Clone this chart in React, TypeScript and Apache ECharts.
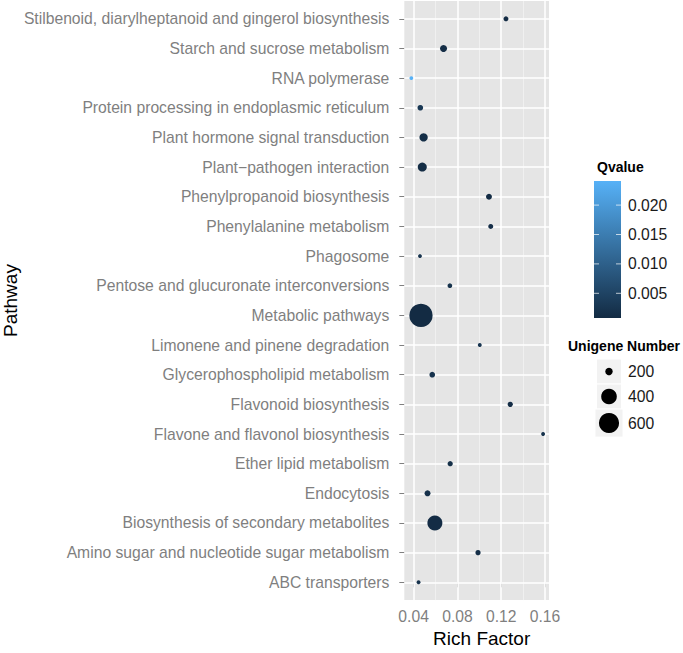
import { useEffect, useRef } from "react";
import * as echarts from "echarts";

// Categories listed bottom-to-top (ggplot order)
const pathways = [
  "ABC transporters",
  "Amino sugar and nucleotide sugar metabolism",
  "Biosynthesis of secondary metabolites",
  "Endocytosis",
  "Ether lipid metabolism",
  "Flavone and flavonol biosynthesis",
  "Flavonoid biosynthesis",
  "Glycerophospholipid metabolism",
  "Limonene and pinene degradation",
  "Metabolic pathways",
  "Pentose and glucuronate interconversions",
  "Phagosome",
  "Phenylalanine metabolism",
  "Phenylpropanoid biosynthesis",
  "Plant\u2212pathogen interaction",
  "Plant hormone signal transduction",
  "Protein processing in endoplasmic reticulum",
  "RNA polymerase",
  "Starch and sucrose metabolism",
  "Stilbenoid, diarylheptanoid and gingerol biosynthesis",
];
const richFactor = [
  0.0445, 0.0988, 0.0594, 0.0527, 0.0734, 0.1582, 0.1282, 0.057, 0.1004, 0.0467,
  0.0731, 0.0458, 0.1104, 0.1088, 0.0479, 0.0491, 0.0461, 0.0379, 0.0673, 0.1243,
];
const unigeneNumber = [
  180, 183, 377, 187, 183, 180, 183, 185, 180, 780,
  181, 180, 182, 187, 222, 211, 185, 180, 196, 182,
];
const qValue = [
  0.002, 0.0015, 0.001, 0.0018, 0.0016, 0.002, 0.0012, 0.0022, 0.0025, 0.0008,
  0.002, 0.0024, 0.0014, 0.0009, 0.0011, 0.0013, 0.003, 0.0241, 0.0012, 0.001,
];
const xMajorTicks = [0.04, 0.08, 0.12, 0.16];
const xMinorTicks = [0.06, 0.1, 0.14];
const qTicks = [0.005, 0.01, 0.015, 0.02];
const sizeBreaks = [200, 400, 600];

const FONT = "Liberation Sans, Arial, Helvetica, sans-serif";

export default function App() {
  const ref = useRef<HTMLDivElement>(null);
  useEffect(() => {
    if (!ref.current) return;
    const chart = echarts.init(ref.current, undefined, { renderer: "svg" });

    const gMin = Math.min(...unigeneNumber);
    const gMax = Math.max(...unigeneNumber);
    const sizePx = (v: number) =>
      3.88 * (1 + 5 * Math.sqrt(Math.max(0, (v - gMin) / (gMax - gMin))));
    const qMin = Math.min(...qValue);
    const qMax = Math.max(...qValue);
    const indices = pathways.map((_, i) => i);

    const data = pathways.map((p, i) => [richFactor[i], i, unigeneNumber[i], qValue[i], p]);

    // colour bar legend
    const barX = 594, barY = 181, barW = 27, barH = 137;
    const qToY = (v: number) => barY + barH - ((v - qMin) / (qMax - qMin)) * barH;
    const graphics: any[] = [];
    graphics.push({
      type: "text",
      left: 597,
      top: 160,
      style: { text: "Qvalue", font: `bold 14px ${FONT}`, fill: "#000" },
    });
    graphics.push({
      type: "rect",
      shape: { x: barX, y: barY, width: barW, height: barH },
      style: {
        fill: new echarts.graphic.LinearGradient(0, 0, 0, 1, [
          { offset: 0, color: "#56B1F7" },
          { offset: 1, color: "#132B43" },
        ]),
      },
    });
    qTicks.forEach((q) => {
      const y = qToY(q);
      graphics.push({
        type: "line",
        shape: { x1: barX, y1: y, x2: barX + 5, y2: y },
        style: { stroke: "#ffffff", lineWidth: 1, opacity: 0.7 },
      });
      graphics.push({
        type: "line",
        shape: { x1: barX + barW - 5, y1: y, x2: barX + barW, y2: y },
        style: { stroke: "#ffffff", lineWidth: 1, opacity: 0.7 },
      });
      graphics.push({
        type: "text",
        x: 628,
        y: y,
        style: {
          text: q.toFixed(3),
          font: `15.7px ${FONT}`,
          fill: "#1a1a1a",
          verticalAlign: "middle",
          align: "left",
        },
      });
    });

    // size legend
    graphics.push({
      type: "text",
      x: 568,
      y: 346,
      style: {
        text: "Unigene Number",
        font: `bold 14px ${FONT}`,
        fill: "#000",
        verticalAlign: "middle",
      },
    });
    let ky = 359;
    const kcx = 609;
    sizeBreaks.forEach((b) => {
      const d = sizePx(b);
      const h = Math.max(25, d + 8);
      graphics.push({
        type: "rect",
        shape: { x: kcx - h / 2, y: ky, width: h, height: h },
        style: { fill: "#F2F2F2", stroke: "#ffffff", lineWidth: 1 },
      });
      graphics.push({
        type: "circle",
        shape: { cx: kcx, cy: ky + h / 2, r: d / 2 },
        style: { fill: "#000" },
      });
      graphics.push({
        type: "text",
        x: 628,
        y: ky + h / 2,
        style: {
          text: String(b),
          font: `15.7px ${FONT}`,
          fill: "#1a1a1a",
          verticalAlign: "middle",
        },
      });
      ky += h;
    });

    const option: any = {
      animation: false,
      textStyle: { fontFamily: FONT },
      grid: {
        left: 404,
        right: 134,
        top: 1,
        bottom: 47,
        show: true,
        backgroundColor: "#E5E5E5",
        borderWidth: 0,
      },
      xAxis: {
        type: "value",
        min: 0.0315,
        max: 0.1636,
        name: "Rich Factor",
        nameLocation: "middle",
        nameGap: 27,
        nameTextStyle: { fontSize: 19, color: "#000", padding: [0, 0, 0, 10] },
        axisLine: { show: false },
        splitLine: { show: false },
        minorSplitLine: { show: false },
        axisTick: {
          show: true,
          customValues: xMajorTicks,
          length: 5,
          lineStyle: { color: "#7F7F7F", width: 1 },
        },
        axisLabel: {
          customValues: xMajorTicks,
          formatter: (v: number) => v.toFixed(2),
          color: "#7F7F7F",
          fontSize: 15.7,
          margin: 8,
        },
      },
      yAxis: {
        type: "value",
        min: -0.6,
        max: pathways.length - 1 + 0.6,
        name: "Pathway",
        nameLocation: "middle",
        nameGap: 383,
        nameRotate: 90,
        nameTextStyle: { fontSize: 19, color: "#000" },
        axisLine: { show: false },
        splitLine: { show: false },
        axisTick: {
          show: true,
          customValues: indices,
          length: 5,
          lineStyle: { color: "#7F7F7F", width: 1 },
        },
        axisLabel: {
          customValues: indices,
          formatter: (v: number) => pathways[Math.round(v)] ?? "",
          color: "#7F7F7F",
          fontSize: 15.7,
          margin: 15,
        },
      },
      visualMap: {
        type: "continuous",
        show: false,
        dimension: 3,
        min: qMin,
        max: qMax,
        seriesIndex: 2,
        inRange: { color: ["#132B43", "#56B1F7"] },
      },
      series: [
        {
          type: "scatter",
          data: [],
          z: 1,
          markLine: {
            z: 1,
            silent: true,
            symbol: "none",
            label: { show: false },
            lineStyle: { color: "#F2F2F2", width: 0.8, type: "solid" },
            data: xMinorTicks.map((v) => ({ xAxis: v })),
          },
        },
        {
          type: "scatter",
          data: [],
          z: 1,
          markLine: {
            z: 2,
            silent: true,
            symbol: "none",
            label: { show: false },
            lineStyle: { color: "#FFFFFF", width: 1.5, type: "solid" },
            data: [
              ...xMajorTicks.map((v) => ({ xAxis: v })),
              ...indices.map((i) => ({ yAxis: i })),
            ],
          },
        },
        {
          type: "scatter",
          z: 10,
          data,
          symbolSize: (val: any[]) => sizePx(val[2]),
          itemStyle: { opacity: 1 },
        },
      ],
      graphic: graphics,
    };
    chart.setOption(option);
    return () => chart.dispose();
  }, []);
  return (
    <div
      ref={ref}
      style={{ position: "fixed", left: 0, top: 0, width: 683, height: 653, background: "#fff" }}
    />
  );
}
